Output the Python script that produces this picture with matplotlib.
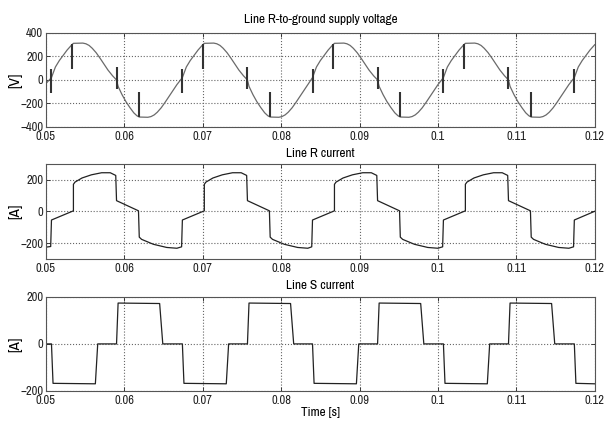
import matplotlib
matplotlib.use('Agg')
import matplotlib.pyplot as plt
from matplotlib import font_manager

# ---- line R-to-ground supply voltage [V]
t_volt = [0.0500,
          0.0507, 0.0512, 0.0517, 0.0522, 0.0527, 0.0531, 0.0533, 0.0535, 0.0547, 0.0551, 0.0555, 0.0559,
          0.0564, 0.0569, 0.0574, 0.0579, 0.0585, 0.0590, 0.0592, 0.0597, 0.0602, 0.0607, 0.0612, 0.0616,
          0.0619, 0.0630, 0.0634, 0.0638, 0.0642, 0.0647, 0.0652, 0.0657, 0.0662, 0.0667,
          0.0674, 0.0679, 0.0684, 0.0689, 0.0694, 0.0698, 0.0700, 0.0702, 0.0714, 0.0718, 0.0722, 0.0726,
          0.0731, 0.0736, 0.0741, 0.0746, 0.0752, 0.0757, 0.0759, 0.0764, 0.0769, 0.0774, 0.0779, 0.0783,
          0.0786, 0.0797, 0.0801, 0.0805, 0.0809, 0.0814, 0.0819, 0.0824, 0.0829, 0.0834,
          0.0840, 0.0845, 0.0850, 0.0855, 0.0860, 0.0864, 0.0866, 0.0868, 0.0880, 0.0884, 0.0888, 0.0892,
          0.0897, 0.0902, 0.0907, 0.0912, 0.0918, 0.0923, 0.0925, 0.0930, 0.0935, 0.0940, 0.0945, 0.0949,
          0.0952, 0.0963, 0.0967, 0.0971, 0.0975, 0.0980, 0.0985, 0.0990, 0.0995, 0.1000,
          0.1007, 0.1012, 0.1017, 0.1022, 0.1027, 0.1031, 0.1033, 0.1035, 0.1047, 0.1051, 0.1055, 0.1059,
          0.1064, 0.1069, 0.1074, 0.1079, 0.1085, 0.1090, 0.1092, 0.1097, 0.1102, 0.1107, 0.1112, 0.1116,
          0.1119, 0.1130, 0.1134, 0.1138, 0.1142, 0.1147, 0.1152, 0.1157, 0.1162, 0.1167,
          0.1174, 0.1179, 0.1184, 0.1189, 0.1194, 0.1198, 0.1200]
v_volt = [-30,
          20, 110, 165, 210, 255, 285, 300, 312, 314, 308, 294, 270,
          232, 185, 135, 85, 35, 0, -55, -125, -185, -235, -280, -305,
          -316, -318, -312, -298, -275, -237, -190, -140, -90, -40,
          20, 110, 165, 210, 255, 285, 300, 312, 314, 308, 294, 270,
          232, 185, 135, 85, 35, 0, -55, -125, -185, -235, -280, -305,
          -316, -318, -312, -298, -275, -237, -190, -140, -90, -40,
          20, 110, 165, 210, 255, 285, 300, 312, 314, 308, 294, 270,
          232, 185, 135, 85, 35, 0, -55, -125, -185, -235, -280, -305,
          -316, -318, -312, -298, -275, -237, -190, -140, -90, -40,
          20, 110, 165, 210, 255, 285, 300, 312, 314, 308, 294, 270,
          232, 185, 135, 85, 35, 0, -55, -125, -185, -235, -280, -305,
          -316, -318, -312, -298, -275, -237, -190, -140, -90, -40,
          20, 110, 165, 210, 255, 285, 300]

# commutation notches on the voltage: time, lower end, upper end
notch_t = [0.0507, 0.0533, 0.0590, 0.0619, 0.0674, 0.0700, 0.0757, 0.0786,
           0.0840, 0.0866, 0.0923, 0.0952, 0.1007, 0.1033, 0.1090, 0.1119, 0.1174]
notch_lo = [-110, 95, -80, -316, -110, 95, -80, -316,
            -110, 95, -80, -316, -110, 95, -80, -316, -110]
notch_hi = [95, 310, 108, -105, 95, 310, 108, -105,
            95, 310, 108, -105, 95, 310, 108, -105, 95]

# ---- line R current [A]
t_ir = [0.0500, 0.0506,
        0.0507, 0.0535, 0.0535, 0.0537, 0.0546, 0.0558, 0.0571, 0.0582, 0.0589,
        0.0590, 0.0618, 0.0619, 0.0622, 0.0637, 0.0654, 0.0667, 0.0673,
        0.0674, 0.0702, 0.0702, 0.0704, 0.0713, 0.0725, 0.0738, 0.0749, 0.0756,
        0.0757, 0.0785, 0.0786, 0.0789, 0.0804, 0.0821, 0.0834, 0.0839,
        0.0840, 0.0868, 0.0868, 0.0870, 0.0879, 0.0891, 0.0904, 0.0915, 0.0922,
        0.0923, 0.0951, 0.0952, 0.0955, 0.0970, 0.0987, 0.1000, 0.1006,
        0.1007, 0.1035, 0.1035, 0.1037, 0.1046, 0.1058, 0.1071, 0.1082, 0.1089,
        0.1090, 0.1118, 0.1119, 0.1122, 0.1137, 0.1154, 0.1167, 0.1173,
        0.1174, 0.1200]
i_r = [-226, -222,
       -55, 3, 170, 184, 210, 230, 243, 243, 226,
       67, 3, -163, -177, -208, -228, -233, -224,
       -55, 3, 170, 184, 210, 230, 243, 243, 226,
       67, 3, -163, -177, -208, -228, -233, -224,
       -55, 3, 170, 184, 210, 230, 243, 243, 226,
       67, 3, -163, -177, -208, -228, -233, -224,
       -55, 3, 170, 184, 210, 230, 243, 243, 226,
       67, 3, -163, -177, -208, -228, -233, -224,
       -55, 0]

# ---- line S current [A]
t_is = [0.0500,
        0.0507, 0.0509, 0.0563, 0.0566, 0.0590, 0.0592, 0.0645, 0.0649,
        0.0674, 0.0676, 0.0730, 0.0733, 0.0757, 0.0759, 0.0812, 0.0816,
        0.0840, 0.0842, 0.0896, 0.0899, 0.0923, 0.0925, 0.0978, 0.0982,
        0.1007, 0.1009, 0.1063, 0.1066, 0.1090, 0.1092, 0.1145, 0.1149,
        0.1174, 0.1176, 0.1200]
i_s = [0,
       0, -168, -170, 0, 0, 174, 172, 0,
       0, -168, -170, 0, 0, 174, 172, 0,
       0, -168, -170, 0, 0, 174, 172, 0,
       0, -168, -170, 0, 0, 174, 172, 0,
       0, -168, -170]

x_ticks = [0.05, 0.06, 0.07, 0.08, 0.09, 0.10, 0.11, 0.12]
x_labels = ['0.05', '0.06', '0.07', '0.08', '0.09', '0.1', '0.11', '0.12']

# the reference uses a narrow sans; pick whatever condensed face exists
fonts = font_manager.fontManager.ttflist
narrow = [f.name for f in fonts if 'Narrow' in f.name]
dv_cond = [f for f in fonts if f.name == 'DejaVu Sans' and 'condensed' in str(f.stretch)]
if narrow:
    plt.rcParams['font.family'] = [narrow[0], 'DejaVu Sans']
    plt.rcParams['font.size'] = 9
elif dv_cond:
    plt.rcParams['font.family'] = ['DejaVu Sans']
    plt.rcParams['font.stretch'] = 'condensed'
    plt.rcParams['font.size'] = 8
else:
    plt.rcParams['font.family'] = ['Liberation Sans', 'DejaVu Sans']
    plt.rcParams['font.size'] = 8
base = plt.rcParams['font.size']

fig = plt.figure(figsize=(6.05, 4.23), dpi=100)
ax1 = fig.add_axes([0.076, 0.700, 0.907, 0.222])
ax2 = fig.add_axes([0.076, 0.388, 0.907, 0.225])
ax3 = fig.add_axes([0.076, 0.076, 0.907, 0.222])


def style(ax, ylim, yticks, ylabel):
    ax.set_xlim(0.05, 0.12)
    ax.set_ylim(*ylim)
    ax.set_xticks(x_ticks)
    ax.set_xticklabels(x_labels)
    ax.set_yticks(yticks)
    ax.tick_params(direction='in', length=3, width=0.6, top=True, right=True,
                   pad=3, colors='#222222')
    ax.tick_params(axis='y', pad=2)
    ax.grid(True, linestyle=':', color='#666666', linewidth=0.8)
    for sp in ax.spines.values():
        sp.set_color('#555555')
        sp.set_linewidth(0.8)
    ax.set_ylabel(ylabel, fontsize=base + 2)
    ax.yaxis.set_label_coords(-0.043, 0.5)


ax1.plot(t_volt, v_volt, color='#6a6a6a', linewidth=0.9)
ax1.vlines(notch_t, notch_lo, notch_hi, color='#333333', linewidth=1.5)
style(ax1, (-400, 400), [-400, -200, 0, 200, 400], '[V]')
ax1.set_title('Line R-to-ground supply voltage', pad=7, fontsize=base + 0.5)

ax2.plot(t_ir, i_r, color='#222222', linewidth=0.9)
style(ax2, (-300, 300), [-200, 0, 200], '[A]')
ax2.set_title('Line R current', pad=5, fontsize=base + 0.5)

ax3.plot(t_is, i_s, color='#222222', linewidth=0.9)
style(ax3, (-200, 200), [-200, 0, 200], '[A]')
ax3.set_title('Line S current', pad=6, fontsize=base + 0.5)
ax3.set_xlabel('Time [s]', labelpad=1, fontsize=base + 0.5)

fig.savefig('out.png', dpi=100)
